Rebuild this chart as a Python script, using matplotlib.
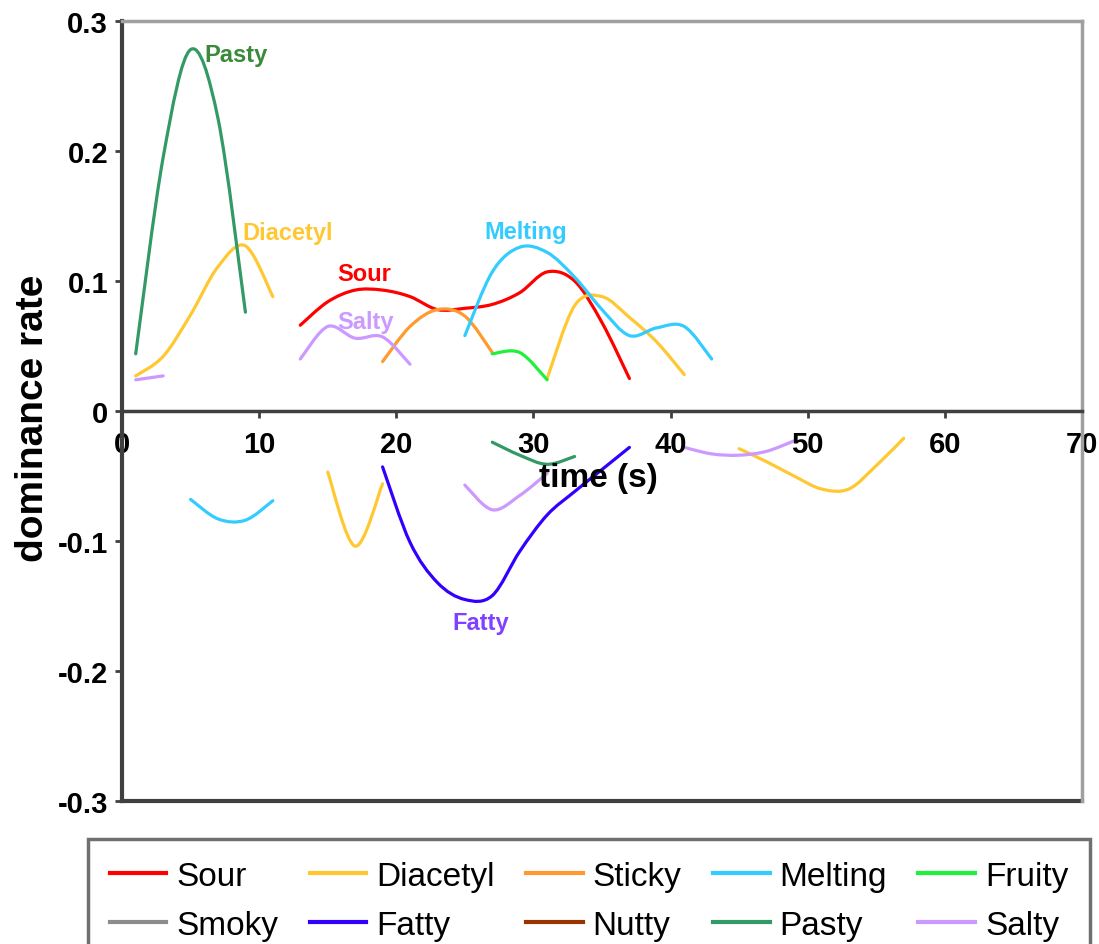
import numpy as np
import matplotlib
matplotlib.use("Agg")
import matplotlib.pyplot as plt
from matplotlib.path import Path
from matplotlib.patches import PathPatch
from matplotlib.lines import Line2D

nan = np.nan

# ---------------- data (dominance rates, positive / negative products) ----------------
sour_t = [13, 15, 17, 19, 21, 23, 25, 27, 29, 31, 33, 35, 37]
sour_v = [0.066, 0.084, 0.093, 0.093, 0.088, 0.078, 0.079, 0.082, 0.091, 0.107, 0.100, 0.068, 0.025]

diacetyl_t = [1, 3, 5, 7, 9, 11, nan, 31, 33, 35, 37, 39, 41]
diacetyl_v = [0.027, 0.042, 0.074, 0.111, 0.127, 0.088, nan, 0.025, 0.081, 0.088, 0.072, 0.053, 0.028]
diacetyl_neg_t = [15, 17, 19, nan, 45, 47, 49, 51, 53, 55, 57]
diacetyl_neg_v = [-0.047, -0.104, -0.056, nan, -0.029, -0.039, -0.050, -0.060, -0.060, -0.042, -0.021]

sticky_t = [19, 21, 23, 25, 27]
sticky_v = [0.038, 0.065, 0.078, 0.073, 0.045]

melting_t = [25, 27, 29, 31, 33, 35, 37, 39, 41, 43]
melting_v = [0.058, 0.107, 0.126, 0.122, 0.103, 0.078, 0.058, 0.064, 0.065, 0.040]
melting_neg_t = [5, 7, 9, 11]
melting_neg_v = [-0.068, -0.083, -0.084, -0.069]

fruity_t = [27, 29, 31]
fruity_v = [0.044, 0.045, 0.024]

fatty_neg_t = [19, 21, 23, 25, 27, 29, 31, 33, 35, 37]
fatty_neg_v = [-0.043, -0.101, -0.132, -0.145, -0.142, -0.108, -0.080, -0.062, -0.045, -0.028]

pasty_t = [1, 3, 5, 7, 9]
pasty_v = [0.044, 0.195, 0.278, 0.225, 0.076]
pasty_neg_t = [27, 29, 31, 33]
pasty_neg_v = [-0.024, -0.034, -0.041, -0.035]

salty_t = [1, 3, nan, 13, 15, 17, 19, 21]
salty_v = [0.024, 0.027, nan, 0.040, 0.065, 0.056, 0.057, 0.036]
salty_neg_t = [25, 27, 29, 31, nan, 41, 43, 45, 47, 49]
salty_neg_v = [-0.057, -0.076, -0.065, -0.048, nan, -0.028, -0.033, -0.034, -0.031, -0.023]

legend_names = ["Sour", "Diacetyl", "Sticky", "Melting", "Fruity",
                "Smoky", "Fatty", "Nutty", "Pasty", "Salty"]
colors = {"Sour": "#FF0000", "Diacetyl": "#FFC832", "Sticky": "#FF9A2E",
          "Melting": "#33CCFF", "Fruity": "#1EF03C", "Smoky": "#8C8C8C",
          "Fatty": "#3300FF", "Nutty": "#993300", "Pasty": "#339966",
          "Salty": "#CC99FF"}

series = [
    ("Sour", sour_t, sour_v),
    ("Diacetyl", diacetyl_t, diacetyl_v),
    ("Diacetyl", diacetyl_neg_t, diacetyl_neg_v),
    ("Sticky", sticky_t, sticky_v),
    ("Melting", melting_t, melting_v),
    ("Melting", melting_neg_t, melting_neg_v),
    ("Fruity", fruity_t, fruity_v),
    ("Fatty", fatty_neg_t, fatty_neg_v),
    ("Pasty", pasty_t, pasty_v),
    ("Pasty", pasty_neg_t, pasty_neg_v),
    ("Salty", salty_t, salty_v),
    ("Salty", salty_neg_t, salty_neg_v),
]

curve_labels = ["Pasty", "Diacetyl", "Sour", "Melting", "Salty", "Fatty"]
curve_label_x = [6.0, 8.8, 15.7, 26.4, 15.7, 24.1]
curve_label_y = [0.274, 0.137, 0.106, 0.138, 0.069, -0.163]
curve_label_colors = ["#3A8A3A", "#FFC832", "#FF0000", "#33CCFF", "#CC99FF", "#8040FF"]

xticks = [0, 10, 20, 30, 40, 50, 60, 70]
xtick_labels = ["0", "10", "20", "30", "40", "50", "60", "70"]
yticks = [0.3, 0.2, 0.1, 0, -0.1, -0.2, -0.3]
ytick_labels = ["0.3", "0.2", "0.1", "0", "-0.1", "-0.2", "-0.3"]


def smooth_path(t, v):
    """Smoothed (Excel-like) line through the points, gaps at NaN."""
    segs, cur = [], []
    for a, b in zip(t, v):
        if np.isnan(a) or np.isnan(b):
            if cur:
                segs.append(cur)
            cur = []
        else:
            cur.append((a, b))
    if cur:
        segs.append(cur)
    verts, codes = [], []
    for s in segs:
        P = np.array(s, float)
        n = len(P)
        verts.append(P[0]); codes.append(Path.MOVETO)
        for i in range(n - 1):
            p0 = P[i - 1] if i > 0 else P[i]
            p1, p2 = P[i], P[i + 1]
            p3 = P[i + 2] if i + 2 < n else P[i + 1]
            c1 = p1 + (p2 - p0) / 6.0
            c2 = p2 - (p3 - p1) / 6.0
            verts += [c1, c2, p2]
            codes += [Path.CURVE4] * 3
    return Path(verts, codes)


plt.rcParams['font.family'] = ['Liberation Sans', 'DejaVu Sans']

fig = plt.figure(figsize=(10.99, 9.45), dpi=100)
ax = fig.add_axes([122 / 1099, 1 - 802 / 945, 960 / 1099, 780 / 945])
ax.set_xlim(0, 70)
ax.set_ylim(-0.3, 0.3)

for name, t, v in series:
    patch = PathPatch(smooth_path(t, v), facecolor='none', edgecolor=colors[name],
                      lw=2.3, capstyle='round', joinstyle='round')
    ax.add_patch(patch)

for txt, x, y, c in zip(curve_labels, curve_label_x, curve_label_y, curve_label_colors):
    ax.text(x, y, txt, color=c, fontsize=17, fontweight='bold', ha='left', va='center')

# spines
ax.spines['bottom'].set_position(('data', 0))
ax.spines['bottom'].set_color('#404040')
ax.spines['bottom'].set_linewidth(2.5)
ax.spines['left'].set_color('#404040')
ax.spines['left'].set_linewidth(3)
for s in ['top', 'right']:
    ax.spines[s].set_color('#A0A0A0')
    ax.spines[s].set_linewidth(2.5)
ax.axhline(-0.3, color='#404040', lw=3, clip_on=False)

ax.set_xticks(xticks)
ax.set_xticklabels(xtick_labels)
ax.set_yticks(yticks)
ax.set_yticklabels(ytick_labels)
ax.tick_params(axis='x', direction='out', length=5, width=2, color='#404040',
               pad=9, labelsize=21)
ax.tick_params(axis='y', direction='out', length=5, width=2, color='#404040',
               pad=5, labelsize=21)
for lab in ax.get_xticklabels() + ax.get_yticklabels():
    lab.set_fontweight('bold')

ax.text(34.7, -0.051, 'time (s)', fontsize=24, fontweight='bold', ha='center', va='center')
fig.text(33 / 1099, 1 - 418 / 945, 'dominance rate', rotation=90, fontsize=28,
         fontweight='bold', ha='center', va='center')

# legend (row-major order reproduced with column-major filling)
order = [0, 5, 1, 6, 2, 7, 3, 8, 4, 9]
handles = [Line2D([], [], color=colors[legend_names[i]], lw=3) for i in order]
labels = [legend_names[i] for i in order]
leg = fig.legend(handles, labels, ncol=5, loc='upper left',
                 bbox_to_anchor=(88 / 1099, 1 - 840 / 945, 1002 / 1099, 0.0),
                 mode='expand', fontsize=24, handlelength=1.7, handletextpad=0.3,
                 columnspacing=0.8, borderpad=0.65, labelspacing=0.55,
                 fancybox=False, framealpha=1, borderaxespad=0)
leg.get_frame().set_edgecolor('#707070')
leg.get_frame().set_linewidth(2.5)

fig.savefig('out.png', dpi=100)
